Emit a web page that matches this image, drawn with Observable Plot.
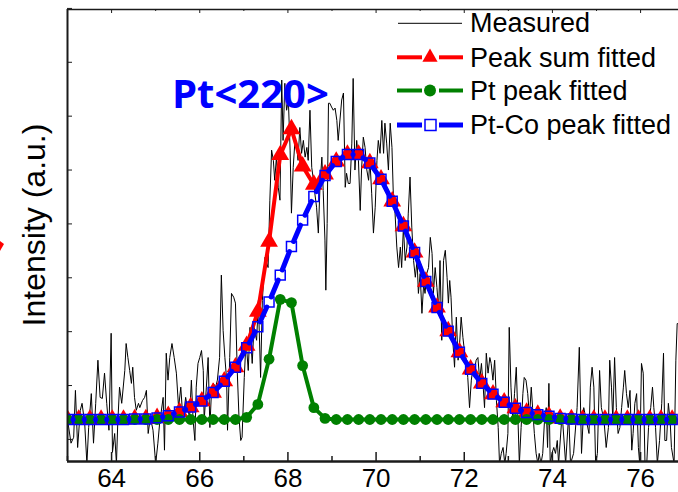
<!DOCTYPE html>
<html><head><meta charset="utf-8">
<script src="https://cdn.jsdelivr.net/npm/d3@7"></script>
<script src="https://cdn.jsdelivr.net/npm/@observablehq/plot@0.6"></script>
<style>
body{margin:0;background:#fff;}
#chart{position:relative;width:678px;height:492px;overflow:hidden;}
</style></head><body><div id="chart"></div>
<script>
const FONT = '"Liberation Sans", Arial, Helvetica, sans-serif';

// Measured XRD pattern (2θ in degrees, intensity in a.u.)
const measuredX = [62.98,63.08,63.14,63.18,63.23,63.29,63.33,63.39,63.44,63.48,63.54,63.59,63.64,63.69,63.74,63.79,63.84,63.89,63.94,63.99,64.02,64.07,64.11,64.14,64.18,64.23,64.30,64.33,64.37,64.41,64.45,64.48,64.52,64.56,64.61,64.64,64.70,64.75,64.79,64.83,64.88,64.94,65.00,65.05,65.09,65.17,65.20,65.24,65.28,
65.32,65.37,65.42,65.47,65.52,65.57,65.62,65.68,65.72,65.77,65.81,65.85,65.89,65.92,65.96,66.00,66.04,66.08,66.10,66.15,66.19,66.23,66.27,66.31,66.36,66.40,66.45,66.49,66.53,66.57,66.61,66.63,66.68,66.72,66.77,66.81,66.85,66.89,66.93,66.96,67.01,67.05,67.10,67.14,67.19,67.23,67.29,
67.33,67.38,67.42,67.48,67.55,67.59,67.63,67.67,67.70,67.74,
67.78,67.82,67.86,67.89,67.93,67.97,68.01,68.05,68.08,68.12,
68.16,68.20,68.23,68.27,68.31,68.35,68.39,68.43,68.46,68.50,
68.54,68.58,68.61,68.65,68.69,68.73,68.77,68.80,68.84,68.86,
68.89,68.92,68.95,68.99,69.03,69.07,69.11,69.14,69.22,69.26,
69.30,69.33,69.37,69.41,69.45,69.48,69.52,69.56,69.60,69.64,
69.67,69.71,69.75,69.79,69.83,69.86,69.90,69.94,69.98,70.02,
70.05,70.09,70.13,70.17,70.20,70.24,70.28,70.32,70.36,70.39,
70.43,70.47,70.51,70.55,70.58,70.62,70.66,70.70,70.73,70.77,
70.81,70.85,70.89,70.93,70.96,71.00,71.04,71.08,71.11,71.15,
71.19,71.23,71.27,71.30,71.34,71.38,71.42,71.45,71.49,71.53,
71.57,71.61,71.64,71.67,71.70,71.74,71.78,71.82,71.86,71.89,
71.93,71.97,72.01,72.05,72.08,72.12,72.16,72.20,72.23,72.27,
72.31,72.35,72.39,72.43,72.46,72.50,72.54,72.58,72.61,72.65,
72.69,72.73,72.77,72.80,72.84,72.88,72.92,72.95,72.99,73.02,
73.06,73.10,73.14,73.18,73.21,73.25,73.29,73.33,73.36,73.40,
73.44,73.48,73.52,73.55,73.59,73.63,73.67,73.70,73.74,73.78,
73.82,73.86,73.89,73.92,73.95,73.99,74.03,74.07,74.11,74.14,
74.22,74.30,74.37,74.41,74.48,74.56,74.61,74.66,74.71,74.77,
74.83,74.86,74.90,74.94,74.98,75.02,75.07,75.11,75.17,75.22,
75.27,75.30,75.34,75.37,75.41,75.45,75.49,75.53,75.57,75.61,
75.64,75.68,75.72,75.76,75.80,75.83,75.87,75.91,75.95,75.98,
76.02,76.06,76.10,76.14,76.18,76.23,76.27,76.30,76.34,76.38,
76.43,76.48,76.52,76.55,76.59,76.63,76.67,76.70,76.76,76.80,
76.83,76.86];
const measuredY = [48,-7,4,91,-15,54,67,30,-45,22,85,-7,67,147,78,76,123,67,17,197,-24,11,-45,30,97,67,128,178,152,128,104,134,78,54,67,59,72,78,91,11,41,17,-45,-7,30,78,-20,160,110,
152,178,152,123,59,97,35,78,59,41,110,35,-2,97,141,152,165,128,35,97,152,22,97,104,97,110,152,305,202,152,110,17,152,271,264,253,128,41,-2,4,115,184,128,208,141,208,184,
258,115,258,338,319,444,537,518,481,524,
468,444,667,555,661,611,630,537,420,505,
555,542,518,579,531,555,524,542,518,611,
505,481,457,431,383,475,524,462,370,277,
401,624,624,617,611,615,592,555,630,643,
468,494,475,475,550,670,500,555,518,425,
500,561,542,500,481,518,457,383,431,518,
555,531,592,531,587,550,500,587,542,457,
420,357,319,357,319,394,332,357,420,487,
394,332,301,332,271,308,234,290,271,308,
319,375,345,271,319,282,240,332,184,332,
351,301,253,295,264,184,134,227,147,171,
227,189,160,147,115,59,110,134,128,147,
152,110,141,97,59,160,123,152,141,110,
147,72,22,-45,-26,-15,-45,-26,11,208,
97,35,85,134,59,-45,22,85,115,110,
85,41,97,59,11,-26,-45,-26,-45,-26,
35,59,-15,104,-45,-26,-15,-26,-2,-45,
48,-45,48,-45,-26,59,171,-26,59,35,
11,97,134,97,-45,-26,128,59,35,-15,
22,147,97,35,152,59,11,22,59,97,
128,85,59,91,-20,11,67,85,-15,-45,
141,123,-45,-45,22,59,97,59,22,-45,
-2,67,160,-2,-2,67,35,-15,-45,147,
215,215];

// Fitted curves, sampled every 0.254° from 63°
const fitStart = 63, fitStep = 0.254;
const peakSumFitted = [37,37,37,37,37,37,38,38,40,44,51,60,71,87,108,134,174,237,367,528,576,507,473,492,516,529,529,513,483,442,396,347,293,245,201,162,130,104,84,69,58,50,46,43,39,38,37,37,37,37,37,37,37,37,37];
const ptPeakFitted = [37,37,37,37,37,37,37,37,37,37,37,37,37,37,37,37,41,65,149,260,254,137,59,39,37,37,37,37,37,37,37,37,37,37,37,37,37,37,37,37,37,37,37,37,37,37,37,37,37,37,37,37,37,37,37];
const ptCoPeakFitted = [37,37,37,37,37,37,38,38,40,44,51,60,71,87,108,134,170,209,255,305,358,407,451,490,516,529,529,513,483,442,396,347,293,245,201,162,130,104,84,69,58,50,46,43,39,38,37,37,37,37,37,37,37,37,37];

const xTicksMajor = [64,66,68,70,72,74,76];
const xTicksMinor = [63,65,67,69,71,73,75];
const yTicks = [0,100,200,300,400,500,600,700,800];
const xDomain = [63, 76.86];
const yDomain = [-41, 798];

const seriesNames = ["Measured","Peak sum fitted","Pt peak fitted","Pt-Co peak fitted"];
const seriesColors = ["#000000","#ff0000","#008000","#0000ff"];
const annotation = "Pt<220>";
const yLabel = "Intensity (a.u.)";

const measured = measuredX.map((x, i) => ({x, y: measuredY[i]}));
const fit = peakSumFitted.map((s, i) => ({x: fitStart + i * fitStep, sum: s, pt: ptPeakFitted[i], ptco: ptCoPeakFitted[i]}));
const blueSegs = d3.pairs(fit).map(([a, b]) => ({x1: a.x, y1: a.ptco, x2: b.x, y2: b.ptco}));

const W = 678, H = 492, mL = 67, mR = 0, mT = 9, mB = 31;
const plotW = W - mL - mR, plotH = H - mT - mB;
const frameColor = "#1a1a1a";

const plot = Plot.plot({
  width: W, height: H,
  marginLeft: mL, marginRight: mR, marginTop: mT, marginBottom: mB,
  x: {domain: xDomain},
  y: {domain: yDomain, axis: null},
  style: {fontFamily: FONT, fontSize: "26px", color: "black", background: "white"},
  marks: [
    Plot.line(measured, {x: "x", y: "y", stroke: seriesColors[0], strokeWidth: 1, clip: true}),
    Plot.line(fit, {x: "x", y: "sum", stroke: seriesColors[1], strokeWidth: 4, clip: true}),
    Plot.dot(fit, {x: "x", y: "sum", symbol: "triangle", fill: seriesColors[1], r: 6.6, clip: true}),
    Plot.line(fit, {x: "x", y: "pt", stroke: seriesColors[2], strokeWidth: 4, clip: true}),
    Plot.dot(fit, {x: "x", y: "pt", fill: seriesColors[2], r: 5.4, clip: true}),
    Plot.arrow(blueSegs, {x1: "x1", y1: "y1", x2: "x2", y2: "y2", stroke: seriesColors[3], strokeWidth: 5, headLength: 0, bend: 0, insetStart: 5.5, insetEnd: 5.5, clip: true}),
    Plot.dot(fit, {x: "x", y: "ptco", symbol: "square", stroke: seriesColors[3], fill: "none", strokeWidth: 1.5, r: 5.6, clip: true}),
    // frame
    Plot.ruleX([xDomain[0]], {stroke: frameColor, strokeWidth: 2}),
    Plot.ruleY([yDomain[1]], {stroke: frameColor, strokeWidth: 1.5}),
    Plot.ruleY([yDomain[0]], {stroke: frameColor, strokeWidth: 2.5}),
    // inward ticks
    Plot.tickX(xTicksMajor, {x: d => d, insetTop: plotH - 9, stroke: frameColor, strokeWidth: 1.5}),
    Plot.tickX(xTicksMinor, {x: d => d, insetTop: plotH - 5, stroke: frameColor, strokeWidth: 1.5}),
    Plot.tickX(xTicksMajor, {x: d => d, insetBottom: plotH - 4, stroke: frameColor, strokeWidth: 1}),
    Plot.tickX(xTicksMinor, {x: d => d, insetBottom: plotH - 2, stroke: frameColor, strokeWidth: 1}),
    Plot.tickY(yTicks, {y: d => d, insetRight: plotW - 5, stroke: frameColor, strokeWidth: 1}),
    Plot.axisX({ticks: xTicksMajor, tickSize: 0, tickPadding: 7.5, label: null, fontSize: 26, tickFormat: d => String(d)})
  ]
});

document.getElementById("chart").appendChild(plot);
const svg = d3.select(plot.tagName.toLowerCase() === "svg" ? plot : plot.querySelector("svg"));

// cropped red mark of the neighbouring panel at the left edge
svg.append("path").attr("d", "M0,241 L4,244 L0,251 Z").attr("fill", "#ff0000");

// y label
svg.append("text")
  .attr("transform", "translate(45,225) rotate(-90)")
  .attr("text-anchor", "middle")
  .attr("font-family", FONT).attr("font-size", 32).attr("fill", "#000")
  .text(yLabel);

// annotation
svg.append("text")
  .attr("x", 172).attr("y", 108)
  .attr("text-anchor", "start")
  .attr("font-family", '"Open Sans", "Noto Sans", sans-serif').attr("font-weight", 700)
  .attr("font-size", 40).attr("fill", "#0000ff")
  .text(annotation);

// legend
const lg = svg.append("g").attr("text-anchor", "start");
const rowsY = [23.3, 57.3, 90.5, 125];
const baseY = [32.3, 66.7, 100, 134.3];
lg.append("line").attr("x1", 398).attr("x2", 462).attr("y1", rowsY[0]).attr("y2", rowsY[0]).attr("stroke", seriesColors[0]).attr("stroke-width", 1);
const widths = [0, 4, 4, 5];
for (let k = 1; k < 4; k++) {
  lg.append("line").attr("x1", 397).attr("x2", 422).attr("y1", rowsY[k]).attr("y2", rowsY[k]).attr("stroke", seriesColors[k]).attr("stroke-width", widths[k]);
  lg.append("line").attr("x1", 439).attr("x2", 463).attr("y1", rowsY[k]).attr("y2", rowsY[k]).attr("stroke", seriesColors[k]).attr("stroke-width", widths[k]);
}
lg.append("path").attr("d", d3.symbol(d3.symbolTriangle, 100)()).attr("transform", `translate(430,${rowsY[1]})`).attr("fill", seriesColors[1]);
lg.append("circle").attr("cx", 430).attr("cy", rowsY[2]).attr("r", 6).attr("fill", seriesColors[2]);
lg.append("rect").attr("x", 425).attr("y", rowsY[3] - 5.5).attr("width", 11).attr("height", 11).attr("fill", "none").attr("stroke", seriesColors[3]).attr("stroke-width", 1.5);
seriesNames.forEach((name, k) => {
  lg.append("text").attr("x", 470).attr("y", baseY[k])
    .attr("text-anchor", "start")
    .attr("font-family", FONT).attr("font-size", 27).attr("fill", "#000")
    .text(name);
});
</script>
</body></html>
